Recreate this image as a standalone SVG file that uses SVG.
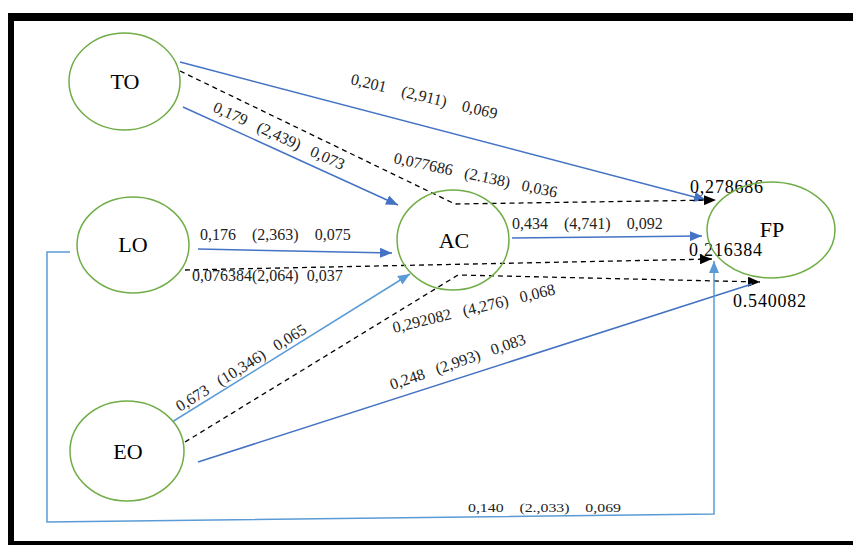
<svg xmlns="http://www.w3.org/2000/svg" width="853" height="545" viewBox="0 0 853 545">
<style>
.node{fill:#fff;stroke:#70AD47;stroke-width:1.5}
.nl{font-family:"Liberation Serif","Times New Roman",serif;font-size:22px;fill:#000;text-anchor:middle}
.el{font-family:"Liberation Serif","Times New Roman",serif;font-size:16px;fill:#222;white-space:pre}
.vl{font-family:"Liberation Serif","Times New Roman",serif;font-size:18px;fill:#000;letter-spacing:0.8px}
.b{stroke:#4472C4;stroke-width:1.5;fill:none}
.lb{stroke:#5B9BD5;stroke-width:1.5;fill:none}
.d{stroke:#000;stroke-width:1.3;stroke-dasharray:5,4;fill:none}
</style>
<defs>
<marker id="ab" markerUnits="userSpaceOnUse" markerWidth="13" markerHeight="10" refX="12" refY="5" orient="auto"><path d="M0,0 L12,5 L0,10 z" fill="#4472C4"/></marker>
<marker id="al" markerUnits="userSpaceOnUse" markerWidth="13" markerHeight="10" refX="12" refY="5" orient="auto"><path d="M0,0 L12,5 L0,10 z" fill="#5B9BD5"/></marker>
<marker id="ak" markerUnits="userSpaceOnUse" markerWidth="13" markerHeight="10" refX="12" refY="5" orient="auto"><path d="M0,0 L12,5 L0,10 z" fill="#000"/></marker>
</defs>
<rect width="853" height="545" fill="#fff"/>
<g id="frame" fill="#000">
<rect x="8" y="13" width="845" height="8"/>
<rect x="8" y="13" width="6" height="532"/>
<rect x="8" y="541" width="845" height="4"/>
</g>
<g id="connectors">
<path class="b" d="M180,62 L706,200" marker-end="url(#ab)"/>
<path class="b" d="M183,107 L398,205" marker-end="url(#ab)"/>
<path class="d" d="M180,71 L455,204 L716,200" marker-end="url(#ak)"/>
<path class="b" d="M512,238 L702,236" marker-end="url(#ab)"/>
<path class="b" d="M198,249 L392,253" marker-end="url(#ab)"/>
<path class="d" d="M185,270 L712,259" marker-end="url(#ak)"/>
<path class="lb" d="M172,422 L410,274" marker-end="url(#al)"/>
<path class="d" d="M185,442 L458,275 L760,282" marker-end="url(#ak)"/>
<path class="b" d="M198,462 L752,284"/>
<path class="lb" d="M70,252 L47,252 L47,522 L714,514 L714,261" marker-end="url(#al)"/>
</g>
<g id="labels">
<text class="el" transform="translate(350,84) rotate(13.5)">0,201    (2,911)    0,069</text>
<text class="el" transform="translate(212,111) rotate(24.5)">0,179   (2,439)   0,073</text>
<text class="el" transform="translate(393,163) rotate(12)">0,077686   (2.138)   0,036</text>
<text class="vl" x="690" y="193">0,278686</text>
<text class="el" x="512" y="229">0,434    (4,741)    0,092</text>
<text class="el" x="200" y="240">0,176    (2,363)    0,075</text>
<text class="el" x="192" y="281">0,076384(2,064)  0,037</text>
<text class="vl" x="689" y="256">0,216384</text>
<text class="el" transform="translate(180,412) rotate(-32)">0,673   (10,346)   0,065</text>
<text class="el" transform="translate(394,333) rotate(-13.5)">0,292082   (4,276)   0,068</text>
<text class="vl" x="733" y="307">0.540082</text>
<text class="el" transform="translate(392,390) rotate(-19)">0,248   (2,993)   0,083</text>
<text class="el" x="468" y="512" style="font-size:13px" textLength="153" lengthAdjust="spacingAndGlyphs">0,140    (2.,033)    0,069</text>
</g>
<g id="TO"><ellipse class="node" cx="124.5" cy="81.5" rx="55.5" ry="48.5"/><text class="nl" x="125" y="89">TO</text></g>
<g id="LO"><ellipse class="node" cx="133" cy="245" rx="56" ry="48"/><text class="nl" x="133" y="252">LO</text></g>
<g id="AC"><ellipse class="node" cx="453" cy="240" rx="56" ry="50" style="fill:none"/><text class="nl" x="454" y="248">AC</text></g>
<g id="FP"><ellipse class="node" cx="771" cy="230" rx="64" ry="48" style="fill:none"/><text class="nl" x="772" y="237">FP</text></g>
<g id="EO"><ellipse class="node" cx="127" cy="451" rx="57" ry="50"/><text class="nl" x="128" y="459">EO</text></g>
</svg>
